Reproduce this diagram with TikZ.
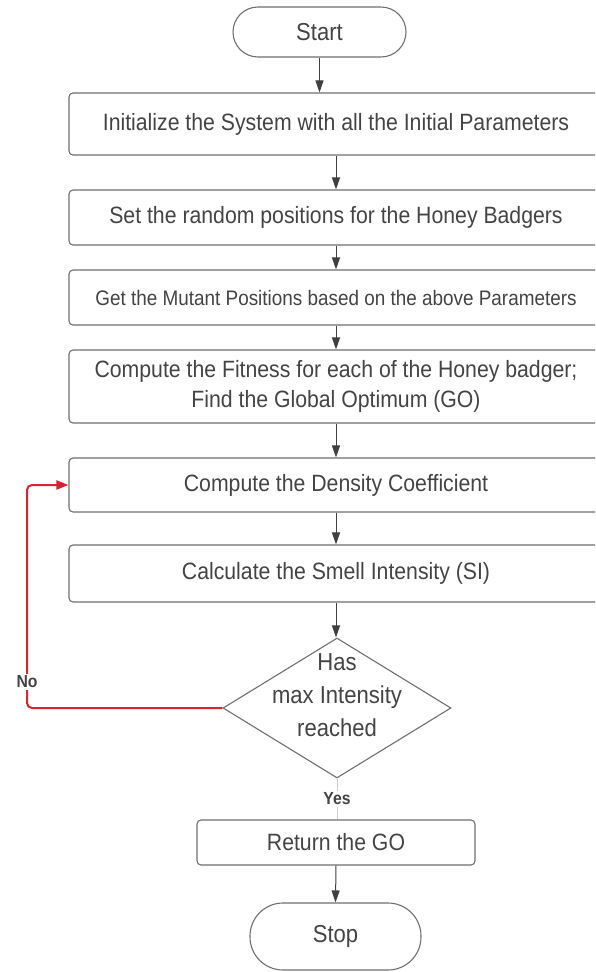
\documentclass[tikz,border=0pt]{standalone}
\usepackage{fontspec}
\setmainfont[FakeStretch=0.9]{Liberation Sans}
\usetikzlibrary{arrows.meta,shapes.geometric}
\definecolor{boxline}{HTML}{707070}
\definecolor{txt}{HTML}{444444}
\definecolor{arr}{HTML}{404040}
\definecolor{loopred}{HTML}{D22630}
\tikzset{
  procbox/.style={draw=boxline, line width=1.1pt, rounded corners=4pt, minimum width=534pt, inner sep=0pt, text=txt, font=\fontsize{23.6}{30}\selectfont, align=center},
  terminal/.style={draw=boxline, line width=1.1pt, rounded corners=25pt, inner sep=0pt, text=txt, font=\fontsize{24.5}{28}\selectfont},
  flow/.style={draw=arr, line width=1pt, -{Triangle[length=12pt,width=8pt]}},
  lbl/.style={fill=white, inner sep=1.5pt, text=txt, font=\bfseries\fontsize{17.5}{19}\selectfont},
}
\begin{document}
\begin{tikzpicture}[x=1pt,y=-1pt]
\useasboundingbox (0,0) rectangle (595,972);
\fill[white] (0,0) rectangle (595,972);
\begin{scope}
\clip (0,0) rectangle (595,972);
\node[terminal, minimum width=173pt, minimum height=50pt] (start) at (319.5,32) {Start};
\node[procbox, minimum height=62pt] (b1) at (336,124) {Initialize the System with all the Initial Parameters};
\node[procbox, minimum height=55pt] (b2) at (336,217.5) {Set the random positions for the Honey Badgers};
\node[procbox, minimum height=55pt, font=\fontsize{21}{26}\selectfont] (b3) at (336,297.5) {Get the Mutant Positions based on the above Parameters};
\node[procbox, minimum height=73pt] (b4) at (336,386.5) {Compute the Fitness for each of the Honey badger;\\Find the Global Optimum (GO)};
\node[procbox, minimum height=54pt] (b5) at (336,485) {Compute the Density Coefficient};
\node[procbox, minimum height=57pt] (b6) at (336,573.5) {Calculate the Smell Intensity (SI)};
\node[draw=boxline, line width=1.1pt, shape=diamond, minimum width=228pt, minimum height=140pt, inner sep=0pt] (d) at (337,708) {};
\node[text=txt, align=center, font=\fontsize{24.5}{33}\selectfont] (dt) at (337,695) {Has\\max Intensity\\reached};
\node[procbox, minimum width=278pt, minimum height=45pt] (b7) at (336,842.5) {Return the GO};
\node[terminal, rounded corners=33pt, minimum width=171pt, minimum height=67pt] (stop) at (335.5,936.5) {Stop};

\draw[flow] (start.south) -- (start.south |- b1.north);
\draw[flow] (b1.south) -- (b2.north);
\draw[flow] (b2.south) -- (b3.north);
\draw[flow] (b3.south) -- (b4.north);
\draw[flow] (b4.south) -- (b5.north);
\draw[flow] (b5.south) -- (b6.north);
\draw[flow] (b6.south) -- (b6.south |- d.north);
\draw[draw=gray!40, line width=1pt] (d.south) -- node[lbl] (yes) {Yes} (d.south |- b7.north);
\draw[flow] (b7.south) -- (stop.north);

\coordinate (lp) at (27,708);
\draw[draw=loopred, line width=2pt, rounded corners=5pt, -{Triangle[length=12pt,width=9pt]}] (d.west) -- (lp) |- (b5.west);
\node[lbl] (no) at (27,682) {No};
\end{scope}
\end{tikzpicture}
\end{document}
